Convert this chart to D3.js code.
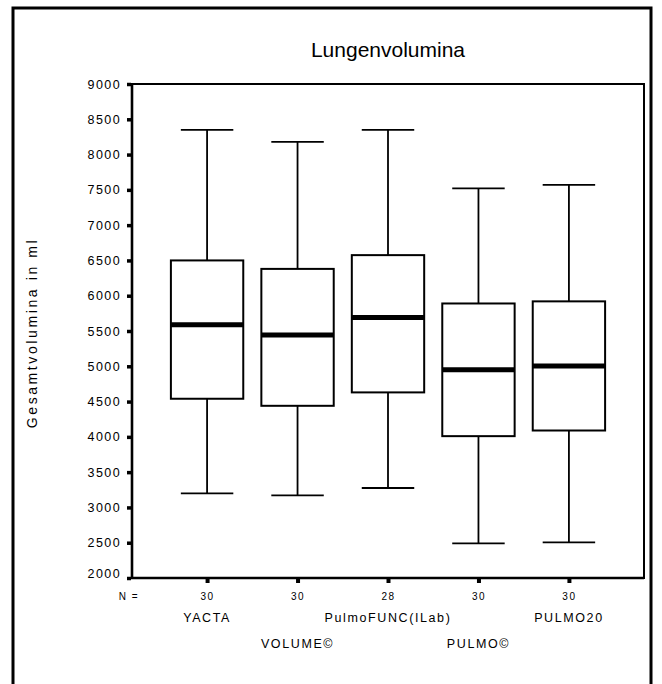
<!DOCTYPE html>
<html>
<head>
<meta charset="utf-8">
<style>
  body { margin: 0; background: #fff; }
  text { font-family: "Liberation Sans", Arial, sans-serif; fill: #000; }
</style>
<title>Lungenvolumina</title>
</head>
<body>
<script src="https://cdn.jsdelivr.net/npm/d3@7"></script>
<script>

// Values
var categories  = ["YACTA", "VOLUME©", "PulmoFUNC(ILab)", "PULMO©", "PULMO20"];
var counts      = [30, 30, 28, 30, 30];
var whiskerLow  = [3200, 3170, 3275, 2490, 2505];
var q1          = [4540, 4440, 4630, 4010, 4090];
var medians     = [5590, 5445, 5690, 4950, 5005];
var q3          = [6500, 6380, 6575, 5890, 5920];
var whiskerHigh = [8350, 8180, 8350, 7520, 7570];
var yTicks      = [2000, 2500, 3000, 3500, 4000, 4500, 5000, 5500, 6000, 6500, 7000, 7500, 8000, 8500, 9000];

var W = 662, H = 684;
var plot = {left: 132, right: 644, top: 84, bottom: 578};

var svg = d3.select("body").append("svg")
    .attr("width", W)
    .attr("height", H);

// outer frame (bottom edge is off the page)
svg.append("rect")
    .attr("x", 13).attr("y", 8)
    .attr("width", 638).attr("height", 700)
    .attr("fill", "none").attr("stroke", "#000").attr("stroke-width", 3);

var y = d3.scaleLinear()
    .domain([2000, 9000])
    .range([plot.bottom, plot.top]);

var x = d3.scalePoint()
    .domain(categories)
    .range([plot.left, plot.right])
    .padding(0.83);

var step = x.step(),
    boxW = step * 0.8,
    capW = step * 0.58;

var data = categories.map((c, i) => ({
  name: c, n: counts[i], lo: whiskerLow[i], q1: q1[i], med: medians[i], q3: q3[i], hi: whiskerHigh[i]
}));

// plot frame
svg.append("rect")
    .attr("x", plot.left).attr("y", plot.top)
    .attr("width", plot.right - plot.left).attr("height", plot.bottom - plot.top)
    .attr("fill", "none").attr("stroke", "#000").attr("stroke-width", 2);

// thicker left and bottom axis lines
svg.append("path")
    .attr("d", `M${plot.left},${plot.top}V${plot.bottom}H${plot.right}`)
    .attr("fill", "none").attr("stroke", "#000").attr("stroke-width", 2.6);

// boxes
var g = svg.selectAll(".box")
    .data(data)
  .enter().append("g")
    .attr("class", "box");

g.append("line")
    .attr("x1", d => x(d.name)).attr("x2", d => x(d.name))
    .attr("y1", d => y(d.hi)).attr("y2", d => y(d.q3))
    .attr("stroke", "#000").attr("stroke-width", 1.8);

g.append("line")
    .attr("x1", d => x(d.name)).attr("x2", d => x(d.name))
    .attr("y1", d => y(d.q1)).attr("y2", d => y(d.lo))
    .attr("stroke", "#000").attr("stroke-width", 1.8);

g.selectAll(".cap")
    .data(d => [{c: d.name, v: d.hi}, {c: d.name, v: d.lo}])
  .enter().append("line")
    .attr("class", "cap")
    .attr("x1", d => x(d.c) - capW / 2).attr("x2", d => x(d.c) + capW / 2)
    .attr("y1", d => y(d.v)).attr("y2", d => y(d.v))
    .attr("stroke", "#000").attr("stroke-width", 1.8);

g.append("rect")
    .attr("x", d => x(d.name) - boxW / 2)
    .attr("y", d => y(d.q3))
    .attr("width", boxW)
    .attr("height", d => y(d.q1) - y(d.q3))
    .attr("fill", "#fff").attr("stroke", "#000").attr("stroke-width", 2);

g.append("line")
    .attr("x1", d => x(d.name) - boxW / 2).attr("x2", d => x(d.name) + boxW / 2)
    .attr("y1", d => y(d.med)).attr("y2", d => y(d.med))
    .attr("stroke", "#000").attr("stroke-width", 5);

// y axis
var yAxis = svg.append("g")
    .attr("transform", `translate(${plot.left - 1},0)`)
    .call(d3.axisLeft(y).tickValues(yTicks).tickSize(4).tickPadding(6).tickFormat(d3.format("d")));
yAxis.select(".domain").remove();
yAxis.selectAll(".tick line").attr("stroke-width", 3.5);
yAxis.selectAll(".tick text")
    .style("font-size", "12.5px")
    .style("letter-spacing", "1.4px")
    .attr("dy", d => d == 2000 ? "-0.02em" : "0.32em");

// x axis with counts
var xAxis = svg.append("g")
    .attr("transform", `translate(0,${plot.bottom + 1})`)
    .call(d3.axisBottom(x).tickSize(4).tickPadding(10).tickFormat((d, i) => counts[i]));
xAxis.select(".domain").remove();
xAxis.selectAll(".tick line").attr("stroke-width", 4);
xAxis.selectAll(".tick text")
    .style("font-size", "10px")
    .style("letter-spacing", "1.5px");

svg.append("text")
    .attr("x", 139).attr("y", 599.5)
    .attr("text-anchor", "end")
    .style("font-size", "10px")
    .style("letter-spacing", "1.5px")
    .text("N =");

// category names on two staggered rows
svg.selectAll(".cat")
    .data(categories)
  .enter().append("text")
    .attr("class", "cat")
    .attr("x", d => x(d))
    .attr("y", (d, i) => i % 2 == 0 ? 622 : 648)
    .attr("text-anchor", "middle")
    .style("font-size", "12.5px")
    .style("letter-spacing", "1.6px")
    .text(d => d);

// titles
svg.append("text")
    .attr("x", (plot.left + plot.right) / 2).attr("y", 57)
    .attr("text-anchor", "middle")
    .style("font-size", "21px")
    .style("letter-spacing", "0px")
    .text("Lungenvolumina");

svg.append("text")
    .attr("transform", "translate(37,333) rotate(-90)")
    .attr("text-anchor", "middle")
    .style("font-size", "14px")
    .style("letter-spacing", "2.6px")
    .text("Gesamtvolumina in ml");

</script>
</body>
</html>
